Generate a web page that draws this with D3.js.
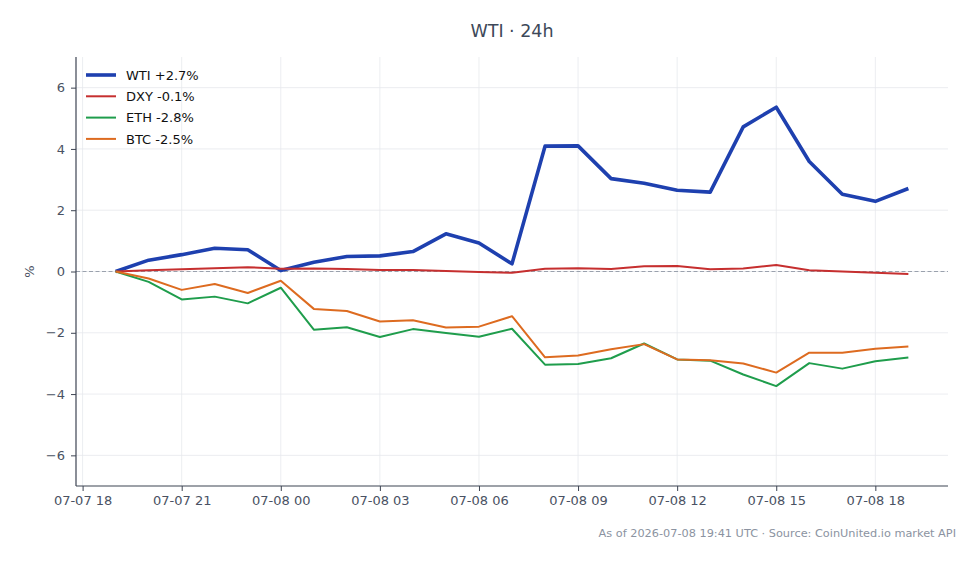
<!DOCTYPE html>
<html>
<head>
<meta charset="utf-8">
<script src="https://cdn.jsdelivr.net/npm/d3@7"></script>
<style>
  body { margin: 0; background: #fff; }
  svg { font-family: "DejaVu Sans", sans-serif; }
</style>
</head>
<body>
<div id="chart"></div>
<script>
// hourly points, 07-07 19:00 .. 07-08 19:00 UTC
const startTime = new Date(Date.UTC(2026, 6, 7, 19))
const wti = [0, 0.37, 0.55, 0.76, 0.71, 0.03, 0.3, 0.49, 0.51, 0.65, 1.23, 0.93, 0.25,
  4.09, 4.1, 3.03, 2.88, 2.65, 2.59, 4.72, 5.36, 3.59, 2.52, 2.29, 2.71]
const dxy = [0, 0.04, 0.07, 0.11, 0.14, 0.09, 0.1, 0.08, 0.05, 0.05, 0.02, -0.02, -0.04,
  0.09, 0.11, 0.08, 0.17, 0.18, 0.07, 0.1, 0.21, 0.04, 0.0, -0.04, -0.08]
const eth = [0, -0.34, -0.91, -0.82, -1.04, -0.53, -1.9, -1.82, -2.14, -1.88, -2.01, -2.13, -1.87,
  -3.04, -3.02, -2.83, -2.35, -2.87, -2.91, -3.36, -3.74, -2.99, -3.17, -2.93, -2.81]
const btc = [0, -0.23, -0.6, -0.41, -0.7, -0.3, -1.22, -1.29, -1.63, -1.59, -1.83, -1.8, -1.46,
  -2.8, -2.74, -2.54, -2.37, -2.87, -2.9, -3.0, -3.3, -2.65, -2.65, -2.52, -2.45]

const seriesNames = ['WTI +2.7%', 'DXY -0.1%', 'ETH -2.8%', 'BTC -2.5%']
const seriesValues = [wti, dxy, eth, btc]
const seriesColors = ['#1e40af', '#c62f2f', '#1f9d4c', '#dd6b20']
const seriesWidths = [3.6, 2, 2, 2]
const yTicks = [-6, -4, -2, 0, 2, 4, 6]

const width = 980
const height = 564
const margin = { top: 57, right: 32, bottom: 78, left: 76 }

const times = wti.map((_, i) => new Date(startTime.getTime() + i * 3600e3))

const svg = d3.select('#chart').append('svg').attr('width', width).attr('height', height)

// x domain with 5% padding like matplotlib
const t0 = times[0].getTime()
const t1 = times[times.length - 1].getTime()
const pad = (t1 - t0) * 0.05
const x = d3.scaleUtc()
  .domain([new Date(t0 - pad), new Date(t1 + pad)])
  .range([margin.left, width - margin.right])
const y = d3.scaleLinear().domain([-7, 7]).range([height - margin.bottom, margin.top])

const xTicks = d3.utcHour.every(3).range(new Date(Date.UTC(2026, 6, 7, 18)), new Date(t1 + pad))

// grid
svg.append('g').selectAll('line').data(xTicks).join('line')
  .attr('x1', d => x(d)).attr('x2', d => x(d))
  .attr('y1', margin.top).attr('y2', height - margin.bottom)
  .attr('stroke', '#e6e8ec').attr('stroke-width', 0.8)
svg.append('g').selectAll('line').data(yTicks).join('line')
  .attr('x1', margin.left).attr('x2', width - margin.right)
  .attr('y1', d => y(d)).attr('y2', d => y(d))
  .attr('stroke', '#e6e8ec').attr('stroke-width', 0.8)

// zero line
svg.append('line')
  .attr('x1', margin.left).attr('x2', width - margin.right)
  .attr('y1', y(0)).attr('y2', y(0))
  .attr('stroke', '#9aa1ad').attr('stroke-width', 1).attr('stroke-dasharray', '4,2.5')

// axes
const fmt = d3.utcFormat('%m-%d %H')
const xAxis = svg.append('g')
  .attr('transform', `translate(0,${height - margin.bottom})`)
  .call(d3.axisBottom(x).tickValues(xTicks).tickFormat(fmt).tickSize(5).tickPadding(5))
const yAxis = svg.append('g')
  .attr('transform', `translate(${margin.left},0)`)
  .call(d3.axisLeft(y).tickValues(yTicks).tickFormat(d => d < 0 ? '\u2212' + Math.abs(d) : d).tickSize(5).tickPadding(6))

for (const ax of [xAxis, yAxis]) {
  ax.select('.domain').attr('stroke', '#3d4452').attr('stroke-width', 1.2)
  ax.selectAll('.tick line').attr('stroke', '#3d4452').attr('stroke-width', 1)
  ax.selectAll('.tick text').attr('fill', '#4a5263').attr('font-size', '13px')
    .attr('font-family', '"DejaVu Sans", sans-serif')
}
// plain spines, no end caps
xAxis.select('.domain').attr('d', `M${margin.left},0H${width - margin.right}`)
yAxis.select('.domain').attr('d', `M0,${margin.top}V${height - margin.bottom}`)

// lines
const line = d3.line().x((d, i) => x(times[i])).y(d => y(d))
seriesValues.forEach((vals, k) => {
  svg.append('path')
    .datum(vals)
    .attr('fill', 'none')
    .attr('stroke', seriesColors[k])
    .attr('stroke-width', seriesWidths[k])
    .attr('stroke-linejoin', 'round')
    .attr('stroke-linecap', 'butt')
    .attr('d', line)
})

// legend
const legend = svg.append('g').attr('transform', 'translate(86,75)')
seriesNames.forEach((name, k) => {
  const row = legend.append('g').attr('transform', `translate(0,${k * 21.3})`)
  row.append('line')
    .attr('x1', 0).attr('x2', 30).attr('y1', 0).attr('y2', 0)
    .attr('stroke', seriesColors[k]).attr('stroke-width', seriesWidths[k])
  row.append('text')
    .attr('x', 40).attr('y', 4.7)
    .attr('font-size', '13px').attr('fill', '#111')
    .text(name)
})

// title
svg.append('text')
  .attr('x', (margin.left + width - margin.right) / 2)
  .attr('y', 37)
  .attr('text-anchor', 'middle')
  .attr('font-size', '17.5px')
  .attr('fill', '#3d4859')
  .text('WTI \u00b7 24h')

// y label
svg.append('text')
  .attr('transform', `translate(34,${y(0)}) rotate(-90)`)
  .attr('text-anchor', 'middle')
  .attr('font-size', '13px')
  .attr('fill', '#4a5263')
  .text('%')

// footer
svg.append('text')
  .attr('x', 956)
  .attr('y', 537)
  .attr('text-anchor', 'end')
  .attr('font-size', '11.3px')
  .attr('fill', '#8b93a1')
  .text('As of 2026-07-08 19:41 UTC \u00b7 Source: CoinUnited.io market API')
</script>
</body>
</html>
